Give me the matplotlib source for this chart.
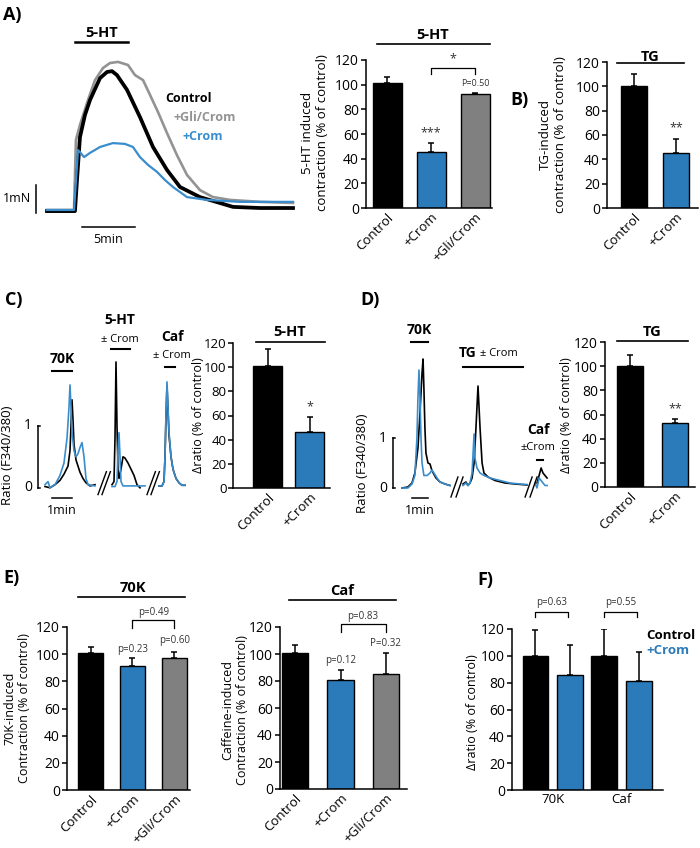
import numpy as np
import matplotlib.pyplot as plt

plt.rcParams['font.family'] = ['Open Sans', 'DejaVu Sans']
plt.rcParams['axes.linewidth'] = 1.1

W, H = 700, 848
BLUE = '#2b7bba'
BLUE_T = '#3a8dcc'
GRAY = '#808080'
GRAY_T = '#939393'

# ---------------- data ----------------
# A) force traces (min, mN)
a_t_gli = [-2.64, -0.09, 0.09, 0.47, 1.23, 1.89, 2.64, 3.30, 4.06, 5.0, 5.66, 6.42, 7.08, 7.83,
           8.68, 9.62, 10.57, 11.79, 13.02, 14.62, 17.45, 20.57]
a_gli = [0, 0, 2.5, 3.04, 3.93, 4.64, 5.07, 5.25, 5.29, 5.18, 4.82, 4.64, 4.11, 3.5,
         2.75, 1.96, 1.25, 0.71, 0.46, 0.36, 0.29, 0.25]
a_t_ctrl = [-2.64, 0, 0.19, 0.47, 0.94, 1.42, 2.36, 3.02, 3.49, 3.96, 4.91, 6.13, 7.36, 8.68,
            9.91, 11.79, 14.91, 17.45, 20.57]
a_ctrl = [-0.04, -0.04, 1.07, 2.6, 3.39, 3.93, 4.71, 4.93, 4.96, 4.82, 4.29, 3.32, 2.25, 1.43,
          0.82, 0.46, 0.11, 0.07, 0.07]
a_t_crom = [-2.64, -0.09, 0.28, 0.47, 0.85, 1.42, 2.36, 3.58, 4.72, 5.47, 6.13, 6.89, 7.74, 8.49,
            9.25, 10.57, 12.45, 15.57, 20.57]
a_crom = [0, 0, 2.14, 2.07, 1.89, 2.04, 2.25, 2.39, 2.36, 2.25, 1.89, 1.61, 1.36, 1.07,
          0.82, 0.46, 0.36, 0.29, 0.29]

# A) bars: 5-HT induced contraction
a_cats = ['Control', '+Crom', '+Gli/Crom']
a_vals = [101, 45.5, 92.5]
a_sem = [5, 7, 1]

# B) TG induced contraction
b_cats = ['Control', '+Crom']
b_vals = [100, 45]
b_sem = [10, 11.5]

# C) Ca2+ ratio traces (min, ratio), three segments: 70K, 5-HT, Caf
c_t_ctrl = [[0, 0.25, 0.5, 0.75, 0.95, 1.15, 1.25, 1.3, 1.35, 1.4, 1.45, 1.55, 1.65, 1.75, 1.9, 2.05, 2.25, 2.5],
            [3.35, 3.45, 3.5, 3.55, 3.6, 3.65, 3.7, 3.8, 3.9, 4.0, 4.15, 4.3, 4.45, 4.6, 4.75],
            [5.7, 5.85, 5.95, 6.0, 6.05, 6.1, 6.15, 6.2, 6.3, 6.4, 6.55, 6.7, 6.85, 7.0]]
c_ctrl = [[0.02, 0.0, 0.05, 0.12, 0.22, 0.35, 0.6, 1.0, 1.42, 1.1, 0.7, 0.45, 0.35, 0.25, 0.15, 0.08, 0.03, 0.05],
          [0.05, 0.1, 0.8, 2.03, 1.0, 0.3, 0.15, 0.3, 0.5, 0.48, 0.4, 0.3, 0.2, 0.05, 0.0],
          [0.03, 0.03, 0.1, 0.5, 1.15, 1.65, 1.25, 0.85, 0.5, 0.3, 0.15, 0.08, 0.04, 0.04]]
c_t_crom = [[0, 0.15, 0.25, 0.5, 0.75, 0.95, 1.1, 1.2, 1.25, 1.3, 1.35, 1.45, 1.55, 1.65, 1.75, 1.85, 1.95, 2.05, 2.15, 2.5],
            [3.35, 3.5, 3.6, 3.65, 3.7, 3.75, 3.8, 3.9, 4.25, 5.0],
            [5.7, 5.85, 5.95, 6.0, 6.05, 6.1, 6.15, 6.2, 6.3, 6.4, 6.55, 6.7, 6.85, 7.0]]
c_crom = [[0.05, 0.1, 0.0, 0.05, 0.2, 0.4, 0.8, 1.3, 1.66, 1.3, 0.9, 0.6, 0.5, 0.55, 0.65, 0.73, 0.5, 0.15, 0.05, 0.03],
          [0.02, 0.02, 0.1, 0.6, 0.89, 0.5, 0.1, 0.03, 0.03, 0.03],
          [0.03, 0.03, 0.1, 0.5, 1.2, 1.71, 1.3, 0.9, 0.5, 0.3, 0.15, 0.08, 0.04, 0.04]]
c_vals = [101, 46.5]
c_sem = [14, 12]

# D) Ca2+ ratio traces, three segments: 70K, TG, Caf
d_t_ctrl = [[0, 0.35, 0.59, 0.76, 0.94, 1.06, 1.18, 1.24, 1.29, 1.35, 1.41, 1.53, 1.65, 1.76, 2.0, 2.24, 2.53, 2.82],
            [3.59, 3.76, 3.88, 4.0, 4.12, 4.24, 4.35, 4.47, 4.59, 4.71, 4.82, 5.06, 5.47, 6.06, 6.65, 7.35],
            [7.94, 8.06, 8.18, 8.29, 8.41, 8.53]]
d_ctrl = [[0.0, 0.02, 0.1, 0.3, 0.8, 1.5, 2.3, 2.58, 2.0, 1.2, 0.7, 0.5, 0.48, 0.35, 0.2, 0.12, 0.08, 0.05],
          [0.08, 0.12, 0.05, 0.1, 0.2, 0.5, 1.2, 2.04, 1.2, 0.5, 0.3, 0.22, 0.15, 0.1, 0.08, 0.06],
          [0.1, 0.25, 0.4, 0.3, 0.25, 0.2]]
d_t_crom = [[0, 0.35, 0.59, 0.76, 0.88, 0.94, 1.0, 1.06, 1.12, 1.18, 1.29, 1.47, 1.65, 1.76, 1.88, 2.06, 2.24, 2.53, 2.82],
            [3.59, 3.76, 3.88, 4.0, 4.12, 4.24, 4.29, 4.41, 4.59, 4.82, 5.18, 5.76, 6.35, 6.94, 7.35],
            [7.82, 7.94, 8.06, 8.18, 8.29, 8.41, 8.53]]
d_crom = [[0.0, 0.0, 0.08, 0.25, 1.0, 1.8, 2.36, 1.8, 1.0, 0.5, 0.25, 0.25, 0.3, 0.36, 0.3, 0.2, 0.12, 0.08, 0.05],
          [0.05, 0.1, 0.05, 0.1, 0.3, 1.08, 0.6, 0.4, 0.3, 0.25, 0.2, 0.15, 0.1, 0.08, 0.07],
          [0.1, 0.0, 0.2, 0.15, 0.1, 0.05, 0.05]]
d_vals = [100, 53]
d_sem = [9, 3]

# E) 70K and caffeine induced contraction
e70_vals = [100.5, 91, 97]
e70_sem = [5, 6, 4.5]
ecaf_vals = [101, 81, 85]
ecaf_sem = [6, 7, 15.5]

# F) delta ratio, grouped
f_groups = ['70K', 'Caf']
f_ctrl = [100, 100]
f_ctrl_sem = [19, 20]
f_crom = [85.5, 81]
f_crom_sem = [22.5, 21.5]


fig = plt.figure(figsize=(7, 8.48), dpi=100)


def box(x0, y0, x1, y1):
    return [x0 / W, 1 - y1 / H, (x1 - x0) / W, (y1 - y0) / H]


def ftext(x, y, s, **kw):
    fig.text(x / W, 1 - y / H, s, **kw)


def bar_axes(rect, xlim):
    ax = fig.add_axes(box(*rect))
    ax.set_xlim(*xlim)
    ax.set_ylim(0, 120)
    ax.set_yticks(range(0, 121, 20))
    ax.tick_params(axis='y', labelsize=10, length=3.5, width=1.1, pad=1.5)
    ax.tick_params(axis='x', length=0, labelsize=9.5, pad=2)
    ax.spines['top'].set_visible(False)
    ax.spines['right'].set_visible(False)
    ax.patch.set_alpha(0)
    return ax


def draw_bars(ax, pos, vals, sem, colors, width):
    ax.bar(pos, vals, width, color=colors, edgecolor='black', linewidth=1, zorder=2)
    ax.errorbar(pos, vals, yerr=[np.zeros(len(vals)), sem], fmt='none', ecolor='black',
                elinewidth=1.1, capsize=2.5, capthick=1.1, zorder=3)


def header(ax, x, y_txt, x0, x1, y_line, s):
    ax.plot([x0, x1], [y_line, y_line], color='black', lw=1.2, clip_on=False)
    ax.text(x, y_txt, s, ha='center', va='center', fontweight='bold', fontsize=10.5)


def bracket(ax, x0, x1, top, bottom, s, y_txt, size=7):
    ax.plot([x0, x0, x1, x1], [bottom, top, top, bottom], color='black', lw=0.9, clip_on=False)
    ax.text((x0 + x1) / 2, y_txt, s, ha='center', va='center', fontsize=size, color='#333333')


def rot_labels(ax, pos, labels):
    ax.set_xticks(pos)
    ax.set_xticklabels(labels, rotation=45, ha='right', rotation_mode='anchor')


# ---------------- A) traces ----------------
ax = fig.add_axes(box(10, 30, 298, 250))
ax.set_xlim(-6.13, 21.04)
ax.set_ylim(-1.43, 6.43)
ax.axis('off')
ax.plot(a_t_gli, a_gli, color=GRAY_T, lw=1.9)
ax.plot(a_t_ctrl, a_ctrl, color='black', lw=2.7)
ax.plot(a_t_crom, a_crom, color=BLUE_T, lw=1.6)
ax.plot([0, 5], [6.0, 6.0], color='black', lw=1.8)
ax.text(2.5, 6.33, '5-HT', ha='center', va='center', fontweight='bold', fontsize=10.5)
ax.plot([-3.68, -3.68], [-0.1, 0.9], color='black', lw=1.1)
ax.text(-4.1, 0.4, '1mN', ha='right', va='center', fontsize=9)
ax.plot([0.66, 5.66], [-0.61, -0.61], color='black', lw=1.1)
ax.text(3.16, -1.07, '5min', ha='center', va='center', fontsize=9)
ax.text(8.49, 4.0, 'Control', ha='left', va='center', fontweight='bold', fontsize=9)
ax.text(9.25, 3.32, '+Gli/Crom', ha='left', va='center', fontweight='bold', fontsize=9, color=GRAY_T)
ax.text(10.19, 2.64, '+Crom', ha='left', va='center', fontweight='bold', fontsize=9, color=BLUE_T)

# ---------------- A) bars ----------------
ax = bar_axes((366, 60, 492, 208), (-0.48, 2.38))
draw_bars(ax, [0, 1, 2], a_vals, a_sem, ['black', BLUE, GRAY], 0.66)
rot_labels(ax, [0, 1, 2], a_cats)
header(ax, 1.02, 140, -0.23, 2.34, 133, '5-HT')
bracket(ax, 1.0, 2.0, 113.5, 108.7, '*', 121, size=9)
ax.text(1, 61, '***', ha='center', va='center', fontsize=9, color='#333333')
ax.text(2, 101, 'P=0.50', ha='center', va='center', fontsize=6.5, color='#333333')
ftext(315, 133, '5-HT induced\ncontraction (% of control)', rotation=90, ha='center', va='center',
      fontsize=9.5, multialignment='center')

# ---------------- B) bars ----------------
ax = bar_axes((607, 62, 698, 208), (-0.64, 1.52))
draw_bars(ax, [0, 1], b_vals, b_sem, ['black', BLUE], 0.61)
rot_labels(ax, [0, 1], b_cats)
header(ax, 0.39, 124.5, -0.41, 1.18, 119.5, 'TG')
ax.text(1, 66, '**', ha='center', va='center', fontsize=9, color='#333333')
ftext(553, 135, 'TG-induced\ncontraction (% of control)', rotation=90, ha='center', va='center',
      fontsize=9.5, multialignment='center')

# ---------------- C) traces ----------------
ax = fig.add_axes(box(0, 300, 190, 520))
ax.set_xlim(-2.25, 7.25)
ax.set_ylim(-0.52, 3.03)
ax.axis('off')
for t, v in zip(c_t_ctrl, c_ctrl):
    ax.plot(t, v, color='black', lw=1.2)
for t, v in zip(c_t_crom, c_crom):
    ax.plot(t, v, color=BLUE_T, lw=1.2)
ax.plot([-0.35, -0.35], [0, 1], color='black', lw=1.1)
ax.plot([-0.35, -0.25], [1, 1], color='black', lw=1.1)
ax.plot([-0.35, -0.25], [0, 0], color='black', lw=1.1)
ax.text(-0.85, 1, '1', ha='center', va='center', fontsize=10)
ax.text(-0.85, 0, '0', ha='center', va='center', fontsize=10)
ax.text(-1.85, 0.52, 'Ratio (F340/380)', rotation=90, ha='center', va='center', fontsize=9.5)
ax.plot([0.35, 1.35], [1.89, 1.89], color='black', lw=1.5)
ax.text(0.85, 2.08, '70K', ha='center', va='center', fontweight='bold', fontsize=10)
ax.text(3.75, 2.71, '5-HT', ha='center', va='center', fontweight='bold', fontsize=10)
ax.text(3.75, 2.4, '± Crom', ha='center', va='center', fontsize=8)
ax.plot([3.3, 4.25], [2.24, 2.24], color='black', lw=1.5)
ax.text(6.4, 2.44, 'Caf', ha='center', va='center', fontweight='bold', fontsize=10)
ax.text(6.35, 2.13, '± Crom', ha='center', va='center', fontsize=8)
ax.plot([6.0, 6.5], [1.95, 1.95], color='black', lw=1.5)
ax.plot([0.35, 1.35], [-0.16, -0.16], color='black', lw=1.1)
ax.text(0.85, -0.36, '1min', ha='center', va='center', fontsize=9)
for x0 in (2.65, 2.85, 5.1, 5.3):
    ax.plot([x0, x0 + 0.42], [-0.11, 0.26], color='black', lw=1.0)

# ---------------- C) bars ----------------
ax = bar_axes((233, 343, 330, 488), (-0.83, 1.48))
ax.tick_params(axis='y', labelsize=9.5, pad=1)
draw_bars(ax, [0, 1], c_vals, c_sem, ['black', BLUE], 0.69)
rot_labels(ax, [0, 1], b_cats)
header(ax, 0.52, 129, -0.29, 1.36, 121, '5-HT')
ax.text(1, 67, '*', ha='center', va='center', fontsize=9, color='#333333')
ftext(198, 415, 'Δratio (% of control)', rotation=90, ha='center', va='center', fontsize=9)

# ---------------- D) traces ----------------
ax = fig.add_axes(box(355, 300, 560, 520))
ax.set_xlim(-2.76, 9.29)
ax.set_ylim(-0.64, 3.76)
ax.axis('off')
for t, v in zip(d_t_ctrl, d_ctrl):
    ax.plot(t, v, color='black', lw=1.2)
for t, v in zip(d_t_crom, d_crom):
    ax.plot(t, v, color=BLUE_T, lw=1.2)
ax.plot([-0.53, -0.53], [0, 1], color='black', lw=1.1)
ax.plot([-0.53, -0.4], [1, 1], color='black', lw=1.1)
ax.plot([-0.53, -0.4], [0, 0], color='black', lw=1.1)
ax.text(-1.12, 1, '1', ha='center', va='center', fontsize=10)
ax.text(-1.12, 0, '0', ha='center', va='center', fontsize=10)
ax.text(-2.29, 0.5, 'Ratio (F340/380)', rotation=90, ha='center', va='center', fontsize=9.5)
ax.text(1.0, 3.16, '70K', ha='center', va='center', fontweight='bold', fontsize=10)
ax.plot([0.53, 1.53], [2.92, 2.92], color='black', lw=1.5)
ax.text(4.41, 2.7, 'TG', ha='right', va='center', fontweight='bold', fontsize=10)
ax.text(4.59, 2.68, '± Crom', ha='left', va='center', fontsize=8)
ax.plot([3.59, 7.12], [2.42, 2.42], color='black', lw=1.5)
ax.text(8.0, 1.16, 'Caf', ha='center', va='center', fontweight='bold', fontsize=10)
ax.text(8.0, 0.8, '±Crom', ha='center', va='center', fontsize=8)
ax.plot([7.94, 8.29], [0.56, 0.56], color='black', lw=1.5)
ax.plot([0.59, 1.53], [-0.2, -0.2], color='black', lw=1.1)
ax.text(1.06, -0.44, '1min', ha='center', va='center', fontsize=9)
for x0 in (2.88, 3.18, 7.24, 7.53):
    ax.plot([x0, x0 + 0.41], [-0.18, 0.22], color='black', lw=1.0)

# ---------------- D) bars ----------------
ax = bar_axes((605, 342, 695, 487), (-0.56, 1.44))
draw_bars(ax, [0, 1], d_vals, d_sem, ['black', BLUE], 0.58)
rot_labels(ax, [0, 1], b_cats)
header(ax, 0.49, 128, -0.29, 1.29, 121, 'TG')
ax.text(1, 65, '**', ha='center', va='center', fontsize=9, color='#333333')
ftext(566, 415, 'Δratio (% of control)', rotation=90, ha='center', va='center', fontsize=9)

# ---------------- E) 70K ----------------
ax = bar_axes((67, 627, 190, 790), (-0.56, 2.37))
draw_bars(ax, [0, 1, 2], e70_vals, e70_sem, ['black', BLUE, GRAY], 0.6)
rot_labels(ax, [0, 1, 2], a_cats)
header(ax, 1.0, 149, -0.3, 2.25, 142, '70K')
bracket(ax, 1.0, 2.0, 125, 119, 'p=0.49', 131)
ax.text(1, 103.6, 'p=0.23', ha='center', va='center', fontsize=7, color='#333333')
ax.text(2, 110, 'p=0.60', ha='center', va='center', fontsize=7, color='#333333')
ftext(17, 708, '70K-induced\nContraction (% of control)', rotation=90, ha='center', va='center',
      fontsize=9, multialignment='center')

# ---------------- E) caffeine ----------------
ax = bar_axes((280, 627, 407, 789), (-0.34, 2.47))
draw_bars(ax, [0, 1, 2], ecaf_vals, ecaf_sem, ['black', BLUE, GRAY], 0.58)
rot_labels(ax, [0, 1, 2], a_cats)
header(ax, 1.04, 147, -0.13, 2.22, 140, 'Caf')
bracket(ax, 1.0, 2.0, 122, 116, 'p=0.83', 128)
ax.text(1, 95, 'p=0.12', ha='center', va='center', fontsize=7, color='#333333')
ax.text(2, 108, 'P=0.32', ha='center', va='center', fontsize=7, color='#333333')
ftext(235, 710, 'Caffeine-induced\nContraction (% of control)', rotation=90, ha='center', va='center',
      fontsize=9, multialignment='center')

# ---------------- F) ----------------
ax = bar_axes((512, 629, 663, 790), (-0.59, 1.6))
gx = np.arange(len(f_groups))
draw_bars(ax, gx - 0.25, f_ctrl, f_ctrl_sem, 'black', 0.375)
draw_bars(ax, gx + 0.25, f_crom, f_crom_sem, BLUE, 0.375)
ax.set_xticks(gx)
ax.set_xticklabels(f_groups)
for g, p in zip(gx, ['p=0.63', 'p=0.55']):
    bracket(ax, g - 0.25, g + 0.22, 133, 129, p, 140)
ax.text(1.36, 115.5, 'Control', ha='left', va='center', fontweight='bold', fontsize=9.5)
ax.text(1.36, 104.3, '+Crom', ha='left', va='center', fontweight='bold', fontsize=9.5, color=BLUE)
ftext(472, 712, 'Δratio (% of control)', rotation=90, ha='center', va='center', fontsize=9)

# ---------------- panel letters ----------------
for x, y, s in [(3, 15, 'A)'), (510, 100, 'B)'), (5, 300, 'C)'), (360, 300, 'D)'),
                (3, 578, 'E)'), (477, 580, 'F)')]:
    ftext(x, y, s, ha='left', va='center', fontweight='bold', fontsize=13)

fig.savefig('out.png', dpi=100)
